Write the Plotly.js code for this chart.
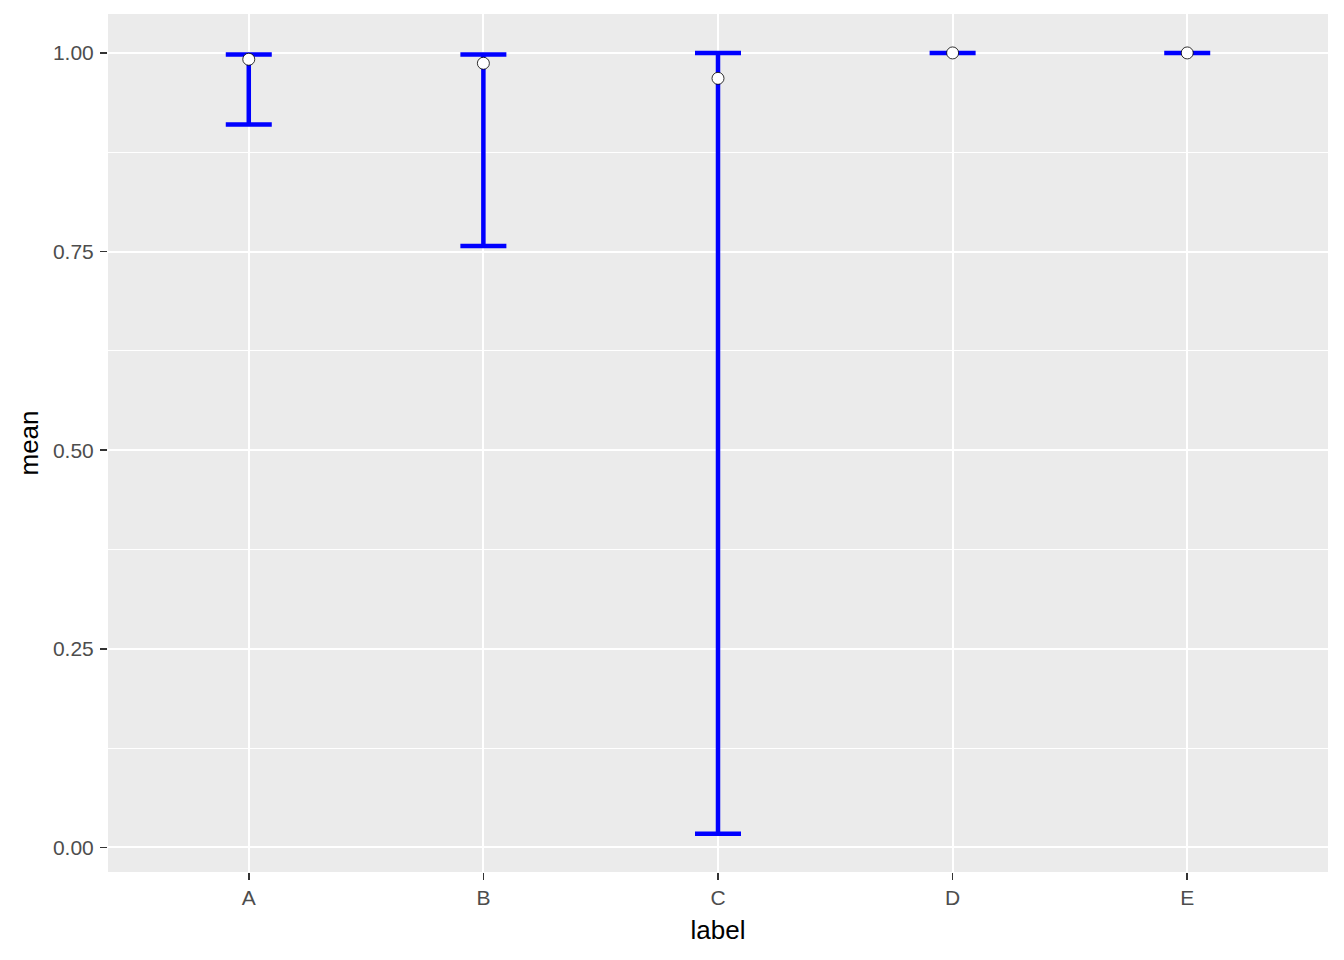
<!DOCTYPE html>
<html>
<head>
<meta charset="utf-8">
<script src="https://cdn.plot.ly/plotly-3.0.1.min.js"></script>
<style>html,body{margin:0;padding:0;background:#fff;}#chart{width:1344px;height:960px;}</style>
</head>
<body>
<div id="chart"></div>
<script>
const labels = ["A", "B", "C", "D", "E"];
const meanValues = [0.992, 0.987, 0.968, 1.0, 1.0];
const lowerValues = [0.910, 0.757, 0.017, 1.0, 1.0];
const upperValues = [0.998, 0.998, 1.0, 1.0, 1.0];
const yTickValues = [0, 0.25, 0.5, 0.75, 1.0];
const yTickLabels = ["0.00", "0.25", "0.50", "0.75", "1.00"];

const errPlus = upperValues.map((u, i) => u - meanValues[i]);
const errMinus = lowerValues.map((l, i) => meanValues[i] - l);

const trace = {
  type: "scatter",
  mode: "markers",
  x: labels,
  y: meanValues,
  marker: {size: 12, color: "white", line: {color: "black", width: 0.8}},
  error_y: {
    type: "data",
    symmetric: false,
    array: errPlus,
    arrayminus: errMinus,
    color: "blue",
    thickness: 4.5,
    width: 23
  },
  hoverinfo: "x+y",
  showlegend: false
};

const font = "Liberation Sans, Arial, sans-serif";
const layout = {
  width: 1344,
  height: 960,
  margin: {l: 108, r: 16, t: 14, b: 88},
  paper_bgcolor: "white",
  plot_bgcolor: "#EBEBEB",
  showlegend: false,
  xaxis: {
    type: "category",
    categoryorder: "array",
    categoryarray: labels,
    range: [-0.6, 4.6],
    showgrid: true,
    gridcolor: "white",
    gridwidth: 2,
    zeroline: false,
    showline: false,
    ticks: "outside",
    ticklen: 7,
    tickwidth: 1.5,
    tickcolor: "#333333",
    ticklabelstandoff: 0,
    tickfont: {family: font, size: 21, color: "#4D4D4D"},
    title: {text: "label", font: {family: font, size: 26, color: "black"}, standoff: 12}
  },
  yaxis: {
    range: [-0.031, 1.049],
    tickmode: "array",
    tickvals: yTickValues,
    ticktext: yTickLabels,
    showgrid: true,
    gridcolor: "white",
    gridwidth: 2,
    zeroline: false,
    showline: false,
    ticks: "outside",
    ticklen: 7,
    tickwidth: 1.5,
    tickcolor: "#333333",
    ticklabelstandoff: 2,
    tickfont: {family: font, size: 21, color: "#4D4D4D"},
    minor: {tickmode: "linear", tick0: 0.125, dtick: 0.25, showgrid: true, gridcolor: "white", gridwidth: 1, ticks: ""},
    title: {text: "mean", font: {family: font, size: 26, color: "black"}, standoff: 6}
  }
};

Plotly.newPlot("chart", [trace], layout, {displayModeBar: false, staticPlot: true});
</script>
</body>
</html>
